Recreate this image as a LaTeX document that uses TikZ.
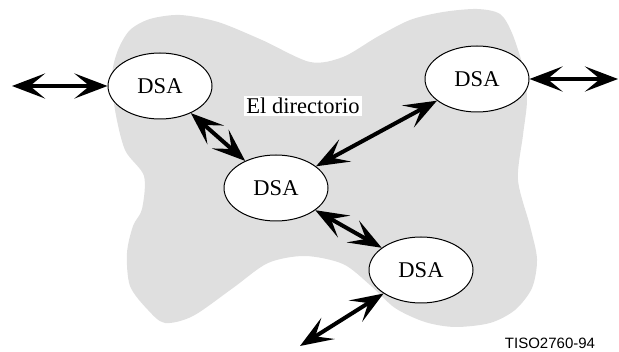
\documentclass[tikz,border=0pt]{standalone}
\usepackage{fontspec}
\setmainfont{Liberation Serif}
\newfontfamily\labelfont{Liberation Sans}
\usetikzlibrary{shapes.geometric,arrows.meta,positioning}

\begin{document}
\begin{tikzpicture}[x=1pt, y=-1pt,
    dsa node/.style={draw, ellipse, fill=white, line width=1pt, minimum width=104pt, minimum height=66pt, inner sep=0pt, font=\fontsize{22.5}{24}\selectfont},
    link/.style={line width=4pt, {Stealth[length=33pt,width=25pt,inset=15pt]}-{Stealth[length=33pt,width=25pt,inset=15pt]}}]
    \useasboundingbox (0,0) rectangle (619,352);

    % the directory area
    \fill[gray!25] plot[smooth cycle] coordinates {(180,15) (218,22) (262,40) (310,62) (343,57) (377,37) (410,20) (443,12) (477,9) (500,14) (512,33) (523,67) (527,100) (523,135) (518,180) (530,226) (537,259) (532,288) (515,310) (490,323) (455,327) (425,322) (395,308) (370,285) (343,264) (305,256) (268,263) (233,288) (193,316) (165,323) (148,310) (130,286) (127,253) (133,226) (142,209) (144,176) (125,150) (115,110) (112,75) (118,50) (130,30) (150,19)};

    \node[dsa node] (dsaA) at (160,86) {DSA};
    \node[dsa node] (dsaB) at (477,79) {DSA};
    \node[dsa node] (dsaC) at (276,188) {DSA};
    \node[dsa node] (dsaD) at (421,270) {DSA};

    \node[fill=white, inner sep=2pt, font=\fontsize{22.5}{24}\selectfont] (dir) at (303,106) {El directorio};
    \node[font=\labelfont\fontsize{15}{17}\selectfont] (ref) at (550,343) {TISO2760-94};

    \coordinate (userA) at (12,86);
    \coordinate (userB) at (618,79);
    \coordinate (userD) at (300,346);

    \draw[link] (userA) -- (dsaA);
    \draw[link] (dsaB) -- (userB);
    \draw[link] (dsaA) -- (dsaC);
    \draw[link] (dsaC) -- (dsaB);
    \draw[link] (dsaC) -- (dsaD);
    \draw[link] (dsaD) -- (userD);

\end{tikzpicture}
\end{document}
